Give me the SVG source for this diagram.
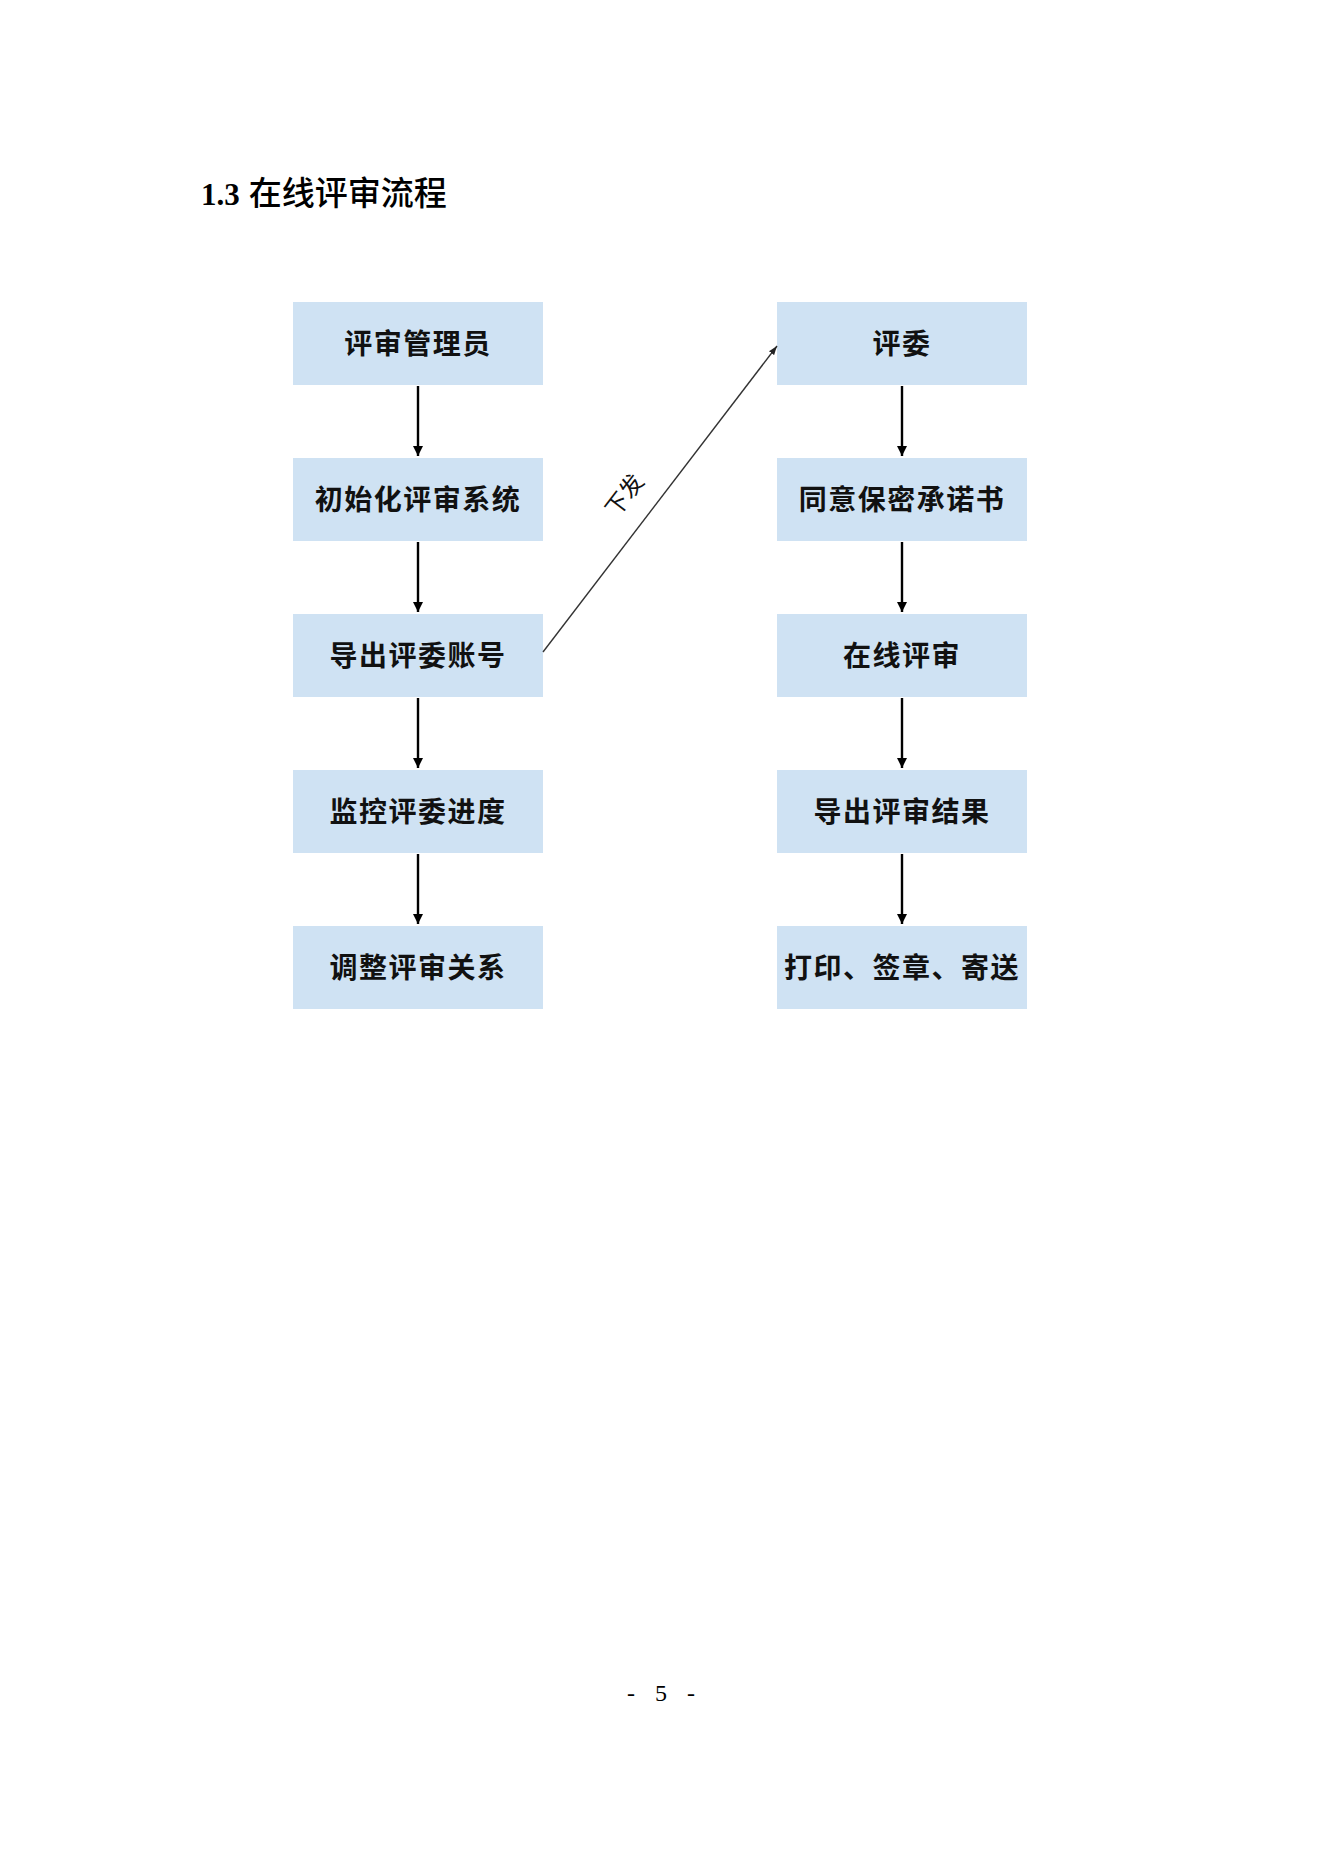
<svg xmlns="http://www.w3.org/2000/svg" width="1322" height="1871" viewBox="0 0 1322 1871">
  <style>
    .box { fill: #cfe2f3; }
    .lbl { font-family: "Noto Sans CJK SC", "Noto Sans", sans-serif; font-weight: bold; font-size: 28px; letter-spacing: 1.5px; fill: #111; text-anchor: middle; dominant-baseline: central; }
    .v { stroke: #000; stroke-width: 2.4; fill: none; marker-end: url(#ah); }
    .d { stroke: #333; stroke-width: 1.4; fill: none; marker-end: url(#ah2); }
  </style>
  <defs>
    <marker id="ah" markerWidth="12" markerHeight="12" refX="10" refY="5.5" orient="auto" markerUnits="userSpaceOnUse">
      <path d="M0,0.5 L10,5.5 L0,10.5 Z" fill="#000"/>
    </marker>
    <marker id="ah2" markerWidth="10" markerHeight="8" refX="9" refY="4" orient="auto" markerUnits="userSpaceOnUse">
      <path d="M0,0.8 L9,4 L0,7.2 Z" fill="#222"/>
    </marker>
  </defs>
  <rect width="1322" height="1871" fill="#fff"/>
  <text x="201" y="205" font-family="Liberation Serif, serif" font-weight="bold" font-size="31" fill="#000">1.3<tspan font-family="Noto Sans CJK SC, sans-serif" font-weight="500" font-size="33" dx="9">在线评审流程</tspan></text>

  <g id="n1"><rect class="box" x="293" y="302" width="250" height="83"/><text class="lbl" x="418" y="342">评审管理员</text></g>
  <g id="n2"><rect class="box" x="293" y="458" width="250" height="83"/><text class="lbl" x="418" y="498">初始化评审系统</text></g>
  <g id="n3"><rect class="box" x="293" y="614" width="250" height="83"/><text class="lbl" x="418" y="654">导出评委账号</text></g>
  <g id="n4"><rect class="box" x="293" y="770" width="250" height="83"/><text class="lbl" x="418" y="810">监控评委进度</text></g>
  <g id="n5"><rect class="box" x="293" y="926" width="250" height="83"/><text class="lbl" x="418" y="966">调整评审关系</text></g>

  <g id="m1"><rect class="box" x="777" y="302" width="250" height="83"/><text class="lbl" x="902" y="342">评委</text></g>
  <g id="m2"><rect class="box" x="777" y="458" width="250" height="83"/><text class="lbl" x="902" y="498">同意保密承诺书</text></g>
  <g id="m3"><rect class="box" x="777" y="614" width="250" height="83"/><text class="lbl" x="902" y="654">在线评审</text></g>
  <g id="m4"><rect class="box" x="777" y="770" width="250" height="83"/><text class="lbl" x="902" y="810">导出评审结果</text></g>
  <g id="m5"><rect class="box" x="777" y="926" width="250" height="83"/><text class="lbl" x="902" y="966" letter-spacing="0.5">打印、签章、寄送</text></g>

  <g id="connectors">
    <line class="v" x1="418" y1="386" x2="418" y2="456"/>
    <line class="v" x1="418" y1="542" x2="418" y2="612"/>
    <line class="v" x1="418" y1="698" x2="418" y2="768"/>
    <line class="v" x1="418" y1="854" x2="418" y2="924"/>
    <line class="v" x1="902" y1="386" x2="902" y2="456"/>
    <line class="v" x1="902" y1="542" x2="902" y2="612"/>
    <line class="v" x1="902" y1="698" x2="902" y2="768"/>
    <line class="v" x1="902" y1="854" x2="902" y2="924"/>
    <line class="d" x1="543" y1="652" x2="777" y2="346"/>
    <text x="623" y="494" transform="rotate(-52.6 623 494)" font-family="Noto Sans CJK SC, sans-serif" font-size="23" fill="#111" text-anchor="middle" dominant-baseline="central">下发</text>
  </g>

  <g font-family="Liberation Serif, serif" font-size="24" fill="#000" text-anchor="middle">
    <text x="631" y="1701">-</text>
    <text x="661" y="1701">5</text>
    <text x="691" y="1701">-</text>
  </g>
</svg>
